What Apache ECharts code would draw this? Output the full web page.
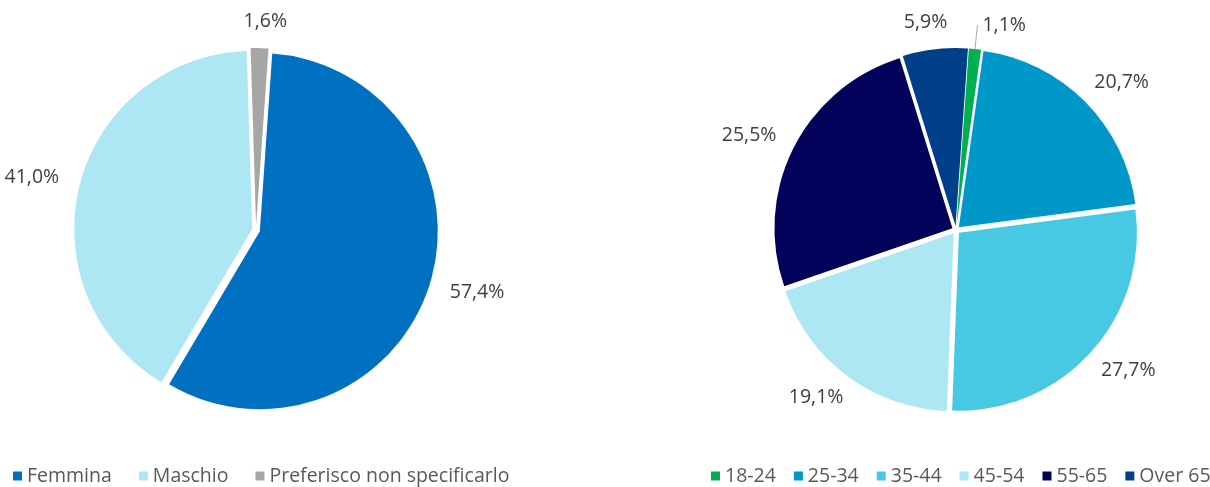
<!DOCTYPE html>
<html>
<head>
<meta charset="utf-8">
<script src="https://cdn.jsdelivr.net/npm/echarts@6/dist/echarts.min.js"></script>
<style>
  html, body { margin: 0; padding: 0; background: #fff; }
  #chart { width: 1210px; height: 487px; }
</style>
</head>
<body>
<div id="chart"></div>
<script>
// gender split
const genderNames  = ['Femmina', 'Maschio', 'Preferisco non specificarlo'];
const genderValues = [57.4, 41.0, 1.6];
const genderColors = ['#0070C0', '#AEE7F4', '#A6A6A6'];

// age split
const ageNames  = ['18-24', '25-34', '35-44', '45-54', '55-65', 'Over 65'];
const ageValues = [1.1, 20.7, 27.7, 19.1, 25.5, 5.9];
const ageColors = ['#00B050', '#0097C9', '#48C9E3', '#AEE7F4', '#02025A', '#023F8A'];

const FONT        = '"Open Sans", sans-serif';
const FIRST_SLICE = 4;   // excel "angle of first slice", degrees clockwise from top

function fmtPct(v) {
    return v.toFixed(1).replace('.', ',') + '%';
}

// mid angle of each slice, radians clockwise from 12 o'clock
function midAngles(values) {
    const total = values.reduce((a, b) => a + b, 0);
    let acc = 0;
    return values.map(function (v) {
        const mid = FIRST_SLICE + (acc + v / 2) / total * 360;
        acc += v;
        return mid * Math.PI / 180;
    });
}
const mids = [midAngles(genderValues), midAngles(ageValues)];

function buildData(names, values, colors, lineIdx) {
    return names.map(function (n, i) {
        const item = {
            name: n,
            value: values[i],
            selected: true,
            itemStyle: { color: colors[i] }
        };
        if (i === lineIdx) {
            item.labelLine = { show: true, length: 24, length2: 0 };
        }
        return item;
    });
}

function pieSeries(center, data, lineIdx) {
    return {
        type: 'pie',
        center: center,
        radius: 178,
        startAngle: 90 - FIRST_SLICE,
        clockwise: true,
        selectedMode: 'multiple',
        selectedOffset: 4,
        silent: true,
        avoidLabelOverlap: false,
        itemStyle: { borderWidth: 0 },
        label: {
            show: true, position: 'outside',
            color: '#404040', fontFamily: FONT, fontSize: 19.5,
            formatter: (p) => fmtPct(p.value)
        },
        labelLine: { show: false, length: 17, length2: 0,
            lineStyle: { color: '#A6A6A6', width: 1 } },
        // excel style: the label box sits off the slice edge, not the anchor point
        labelLayout: function (params) {
            if (params.dataIndex === lineIdx) return {};
            const a = mids[params.seriesIndex][params.dataIndex];
            const w = params.labelRect.width, h = params.labelRect.height;
            const s = Math.sin(a);
            return {
                dx: (s - Math.sign(s)) * w / 2,
                dy: -Math.cos(a) * h / 2
            };
        },
        data: data
    };
}

document.addEventListener('DOMContentLoaded', () => {
    const chart = echarts.init(document.getElementById('chart'));

    const legendBase = {
        top: 466,
        padding: 0,
        icon: 'rect',
        itemWidth: 9, itemHeight: 9,
        selectedMode: false,
        textStyle: { color: '#595959', fontFamily: FONT, fontSize: 19.5 }
    };

    chart.setOption({
        animation: false,
        legend: [
            Object.assign({}, legendBase, { left: 13, itemGap: 27, data: genderNames }),
            Object.assign({}, legendBase, { left: 711, width: 540, itemGap: 18, data: ageNames })
        ],
        series: [
            pieSeries([256, 230], buildData(genderNames, genderValues, genderColors, -1), -1),
            pieSeries([956, 230], buildData(ageNames, ageValues, ageColors, 0), 0)
        ]
    });
});
</script>
</body>
</html>
